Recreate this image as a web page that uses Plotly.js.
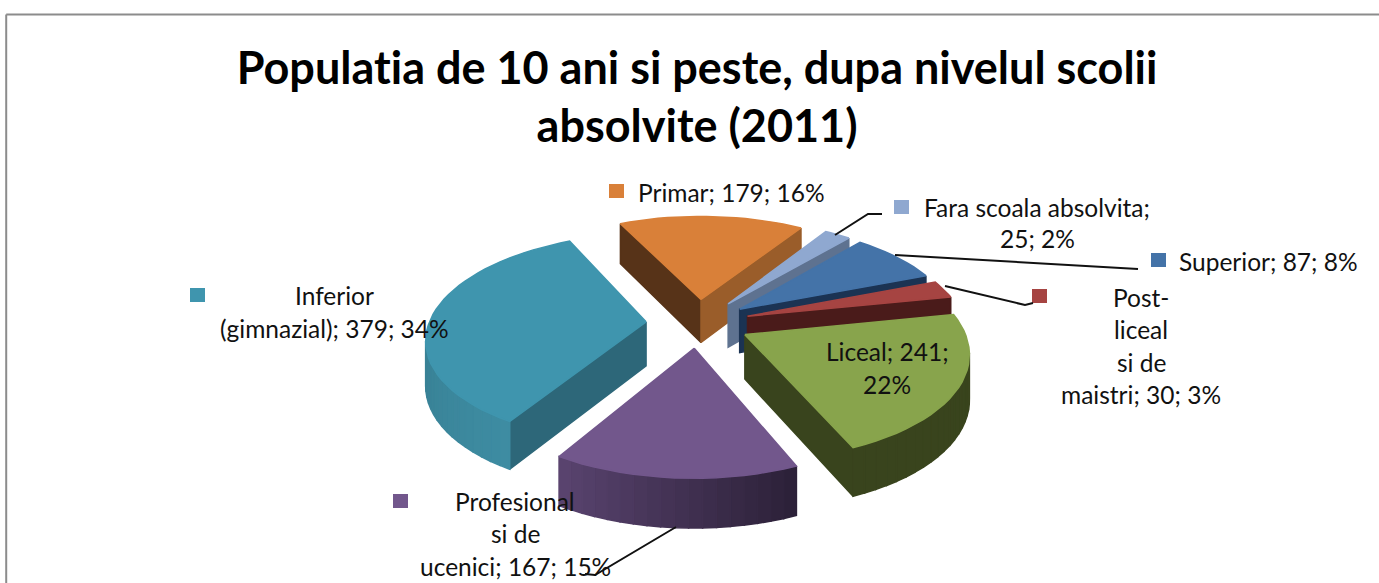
<!DOCTYPE html>
<html><head><meta charset="utf-8">
<script src="https://cdn.plot.ly/plotly-3.0.1.min.js"></script>
<style>html,body{margin:0;padding:0;background:#fff}#c{width:1379px;height:583px}
svg text{font-variant-ligatures:none;font-feature-settings:"liga" 0}</style>
</head><body><div id="c"></div>
<script>
// Data, in pie order (clockwise)
const categories = ["Fara scoala absolvita","Superior","Post-liceal si de maistri","Liceal","Profesional si de ucenici","Inferior (gimnazial)","Primar"];
const values = [25,87,30,241,167,379,179];
const percents = [2,8,3,22,15,34,16];
const labelLines = [
  ["Fara scoala absolvita;","25; 2%"],
  ["Superior; 87; 8%"],
  ["Post-","liceal","si de","maistri; 30; 3%"],
  ["Liceal; 241;","22%"],
  ["Profesional","si de","ucenici; 167; 15%"],
  ["Inferior","(gimnazial); 379; 34%"],
  ["Primar; 179; 16%"]
];
const titleText = "Populatia de 10 ani si peste, dupa nivelul scolii<br>absolvite (2011)";

// Styles
const topColors  = ["#8FA8D0","#4473A8","#A64442","#88A44C","#72578C","#3F95AE","#D98039"];
const wallA      = ["#5E7290","#1B3353","#4A1B1A","#39441D","#2B2037","#3E8CA2","#9A5D2A"]; // rim start
const wallB      = ["#5E7290","#1B3353","#4A1B1A","#39441D","#5A4470","#2F6F80","#9A5D2A"]; // rim end
const radialA    = ["#5E7290","#1B3353","#4A1B1A","#39441D","#2B2037","#2D6779","#573318"]; // wall at start angle
const radialB    = ["#5E7290","#1B3353","#4A1B1A","#39441D","#2B2037","#2D6779","#9A5D2A"]; // wall at end angle
const drawOrder  = [6,0,1,2,5,3,4];

// Projection
const startDeg=32.5, pull=0.24, cx=698, cy=323, rx=217, ry=102, persp=0.15, depth=44;
function project(X,Y,z){const k=1/(1+persp*Y);return [cx+X*rx*k, cy-Y*ry*k+z*depth*Math.pow(k,0.6)];}
function area(p){let a=0;for(let i=0;i<p.length;i++){const q=p[(i+1)%p.length];a+=p[i][0]*q[1]-q[0]*p[i][1];}return a/2;}
function hex(c){return [1,3,5].map(i=>parseInt(c.substr(i,2),16));}
function mix(a,b,f){const A=hex(a),B=hex(b);return 'rgb('+A.map((v,i)=>Math.round(v+(B[i]-v)*f)).join(',')+')';}

const total=values.reduce((s,v)=>s+v,0);
let cum=0;
const slices=values.map((v,i)=>{const a0=startDeg+cum/total*360;cum+=v;const a1=startDeg+cum/total*360;return {i,a0,a1};});
const traces=[];
function poly(pts,color,i){
  traces.push({type:'scatter',mode:'lines',x:pts.concat([pts[0]]).map(p=>p[0]),y:pts.concat([pts[0]]).map(p=>p[1]),
    fill:'toself',fillcolor:color,line:{color:color,width:1.5},hoverinfo:'text',
    text:categories[i]+'; '+values[i]+'; '+percents[i]+'%',showlegend:false,name:categories[i]});
}
drawOrder.forEach(idx=>{
  const s=slices[idx],i=s.i;
  const m=(s.a0+s.a1)/2*Math.PI/180, ox=pull*Math.sin(m), oy=pull*Math.cos(m);
  const rim=[];const n=Math.max(6,Math.round((s.a1-s.a0)/3));
  for(let j=0;j<=n;j++){const t=(s.a0+(s.a1-s.a0)*j/n)*Math.PI/180;rim.push([ox+Math.sin(t),oy+Math.cos(t)]);}
  const T=(p)=>project(p[0],p[1],0),B=(p)=>project(p[0],p[1],1);
  const aT=project(ox,oy,0), aB=project(ox,oy,1);
  // faces turned to the viewer only
  const w0=[aT,T(rim[0]),B(rim[0]),aB];
  const w1=[T(rim[n]),aT,aB,B(rim[n])];
  if(area(w0)<0) poly(w0,radialA[i],i);
  if(area(w1)<0) poly(w1,radialB[i],i);
  for(let j=0;j<n;j++){
    const q=[T(rim[j]),T(rim[j+1]),B(rim[j+1]),B(rim[j])];
    if(area(q)<0) poly(q,mix(wallA[i],wallB[i],(j+.5)/n),i);
  }
  poly([aT].concat(rim.map(T)),topColors[i],i);
});

// Data labels as one annotation per line, with their legend keys and leader lines
const labelCenterX=[1037,1268,1141,887,515,334,731];
const labelFirstY=[207,261,297,351,501,295,192];
const lineStep=[31,33,32.5,33,32.5,33,33];
const annotations=[];
labelLines.forEach((lines,i)=>lines.forEach((t,j)=>annotations.push({
  x:labelCenterX[i],y:labelFirstY[i]+j*lineStep[i],xref:'x',yref:'y',text:t,showarrow:false,
  xanchor:'center',yanchor:'middle',font:{family:'Lato, Carlito, sans-serif',size:24.5,color:'#111'}})));
const keyX=[894,1151,1032,801,393,190,609], keyY=[200,253,289,345,494,288,184];
const shapes=[
 {type:'line',xref:'paper',yref:'paper',x0:0.0045,x1:0.0045,y0:0,y1:0.975,line:{color:'#8c8c8c',width:2}},
 {type:'line',xref:'paper',yref:'paper',x0:0.0045,x1:1,y0:0.975,y1:0.975,line:{color:'#8c8c8c',width:2}}
];
keyX.forEach((x,i)=>shapes.push({type:'rect',xref:'x',yref:'y',x0:x,x1:x+15,y0:keyY[i],y1:keyY[i]+14,
  fillcolor:topColors[i],line:{width:0}}));
const leaders=["M835,235 L868,214 L882,214","M895,255 L1138,269","M945,286 L1025,305 L1033,303","M676,527 L595,575 L585,574"];
leaders.forEach(p=>shapes.push({type:'path',xref:'x',yref:'y',path:p,line:{color:'#111',width:2}}));

Plotly.newPlot('c',traces,{
  width:1379,height:583,margin:{l:0,r:0,t:0,b:0},paper_bgcolor:'#fff',plot_bgcolor:'#fff',
  title:{text:titleText,x:0.5055,xanchor:'center',y:0.856,yanchor:'bottom',font:{family:'Lato, Carlito, sans-serif',size:45,color:'#000',weight:700}},
  xaxis:{range:[0,1379],visible:false,fixedrange:true},
  yaxis:{range:[583,0],visible:false,fixedrange:true},
  showlegend:false,shapes,annotations
},{displayModeBar:false});
</script></body></html>
